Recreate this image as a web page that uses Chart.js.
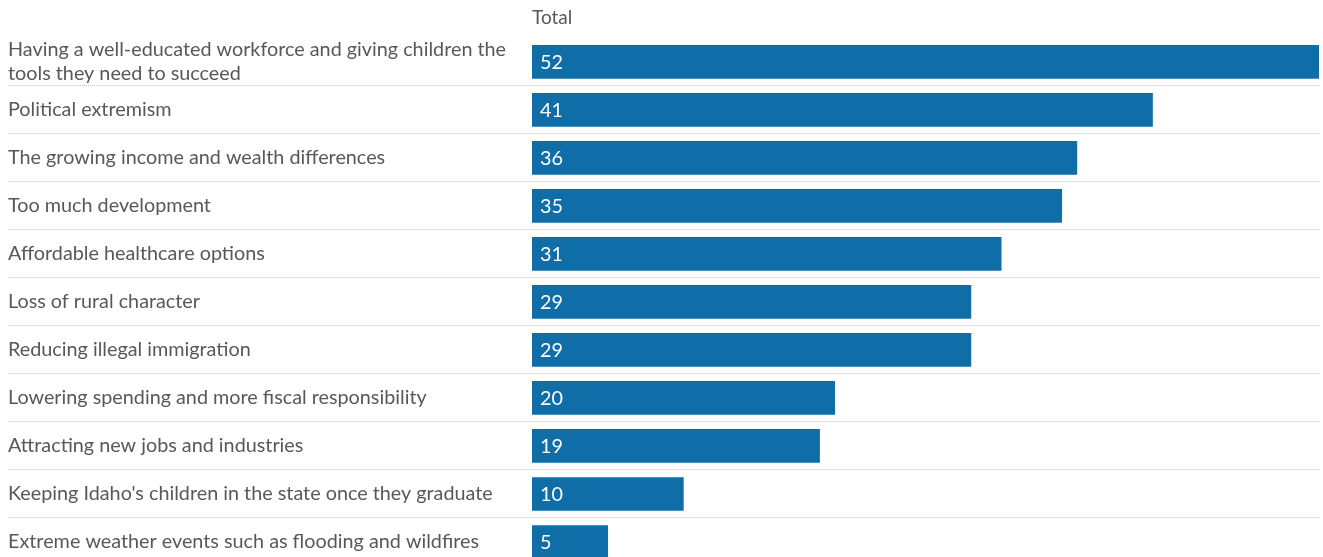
<!DOCTYPE html>
<html>
<head>
<meta charset="utf-8">
<script src="https://cdn.jsdelivr.net/npm/chart.js@4"></script>
<style>
	html, body { margin: 0; padding: 0; background: #fff; overflow: hidden; }
	canvas { display: block; }
</style>
</head>
<body>
<canvas id="main_chart" width="1323" height="566"></canvas>
<script>
// categories, top to bottom
const categories = [
	['Having a well-educated workforce and giving children the', 'tools they need to succeed'],
	'Political extremism',
	'The growing income and wealth differences',
	'Too much development',
	'Affordable healthcare options',
	'Loss of rural character',
	'Reducing illegal immigration',
	'Lowering spending and more fiscal responsibility',
	'Attracting new jobs and industries',
	"Keeping Idaho's children in the state once they graduate",
	'Extreme weather events such as flooding and wildfires',
]
const totals = [52, 41, 36, 35, 31, 29, 29, 20, 19, 10, 5]
const seriesName = 'Total'

const barColor = '#0f6ea8'
const textColor = '#585858'
const fontFamily = 'Lato, "Open Sans", sans-serif'

// write the value inside each bar
const valueLabels = {
	id: 'valueLabels',
	afterDatasetsDraw(chart) {
		const { ctx } = chart
		const meta = chart.getDatasetMeta(0)
		ctx.save()
		ctx.fillStyle = '#ffffff'
		ctx.font = `19.8px ${fontFamily}`
		ctx.textAlign = 'left'
		ctx.textBaseline = 'middle'
		meta.data.forEach((bar, i) => {
			ctx.fillText(String(totals[i]), bar.base + 8, bar.y + 1)
		})
		ctx.restore()
	},
}

// no separator above the first row
const dotted = ctx => (ctx.index === 0 ? 'rgba(0,0,0,0)' : '#c4c4c4')

new Chart(document.getElementById('main_chart'), {
	type: 'bar',
	data: {
		labels: categories,
		datasets: [
			{
				label: seriesName,
				data: totals,
				backgroundColor: barColor,
				borderWidth: 0,
				barThickness: 33,
			},
		],
	},
	options: {
		indexAxis: 'y',
		responsive: false,
		animation: false,
		devicePixelRatio: 1,
		layout: { padding: { left: 8, right: 4, top: 0, bottom: 0 } },
		plugins: {
			legend: { display: false },
			tooltip: { enabled: false },
		},
		scales: {
			x: {
				position: 'top',
				min: 0,
				max: 52,
				grid: { display: false, drawTicks: false },
				border: { display: false },
				ticks: { display: false },
				title: {
					display: true,
					text: seriesName,
					align: 'start',
					color: textColor,
					font: { family: fontFamily, size: 19 },
					padding: { top: 6, bottom: 9 },
				},
			},
			y: {
				grid: {
					offset: true,
					color: dotted,
					tickColor: dotted,
					tickLength: 524,
					tickBorderDash: [1, 1],
					lineWidth: 1,
				},
				border: { display: false, dash: [1, 1] },
				ticks: {
					autoSkip: false,
					crossAlign: 'far',
					color: textColor,
					font: { family: fontFamily, size: 19.8, lineHeight: 1.2 },
				},
				afterFit(scale) {
					scale.width = 524
					// labels sit inside their rows, no extra room needed
					scale.paddingTop = 0
					scale.paddingBottom = 0
				},
			},
		},
	},
	plugins: [valueLabels],
})
</script>
</body>
</html>
